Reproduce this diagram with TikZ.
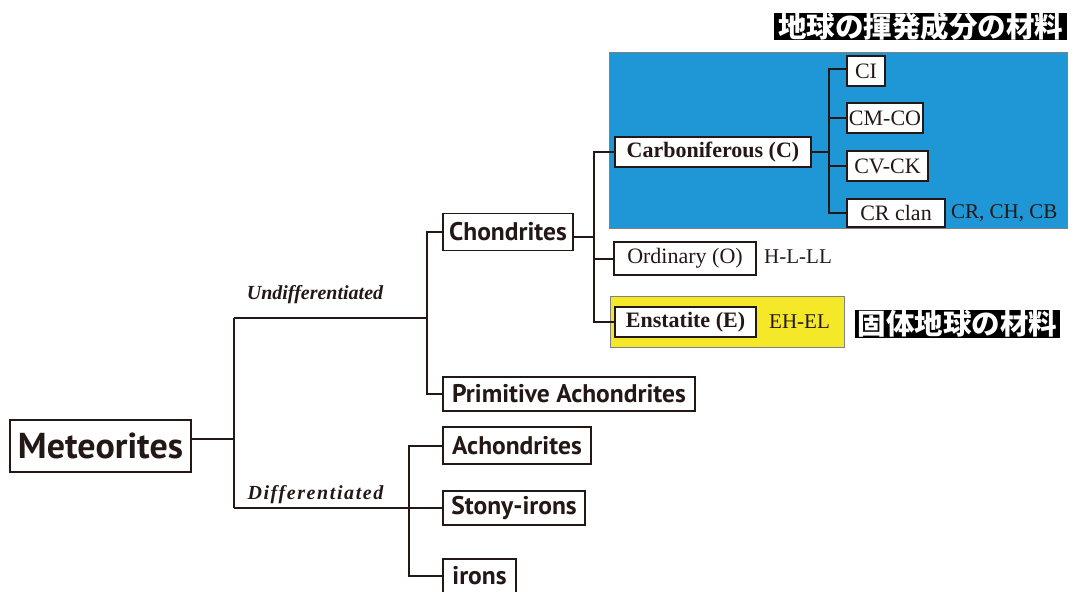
\documentclass[tikz,border=0pt]{standalone}
\usepackage{fontspec}
\setmainfont{Liberation Serif}
\newfontfamily\sansb{PT Sans}
\newfontfamily\cjk{Noto Sans CJK JP}
\definecolor{ink}{HTML}{231815}
\definecolor{cblue}{HTML}{1F96D5}
\definecolor{eyellow}{HTML}{F4E828}
\tikzset{
  box/.style={draw=ink, line width=1.8pt, fill=white, inner sep=0pt, text=ink},
  sansbox/.style={box, font=\sansb\bfseries\fontsize{25.5}{25.5}\selectfont},
  serifbox/.style={box, font=\fontsize{22}{22}\selectfont},
  boldserif/.style={box, font=\bfseries\fontsize{22}{22}\selectfont},
  conn/.style={draw=ink, line width=2pt},
  branchlab/.style={text=ink, inner sep=0pt, font=\bfseries\itshape\fontsize{20}{20}\selectfont},
  note/.style={text=ink, inner sep=0pt, anchor=west, font=\fontsize{21}{21}\selectfont},
  jplab/.style={fill=black, text=white, inner sep=0pt, font=\cjk\bfseries\fontsize{28.5}{28.5}\selectfont}
}
\begin{document}
\begin{tikzpicture}[x=1pt,y=-1pt]
\useasboundingbox (0,0) rectangle (1080,592);

% coloured group panels
\fill[cblue] (609,52) rectangle (1067,228);
\draw[gray, line width=0.6pt] (609,52) rectangle (1067,228);
\fill[eyellow] (610,296) rectangle (844,347);
\draw[gray, line width=0.6pt] (610,296) rectangle (844,347);

% classification boxes
\node[sansbox, minimum width=181, minimum height=52, font=\sansb\bfseries\fontsize{36}{36}\selectfont] (met) at (100.5,446) {Meteorites};
\node[sansbox, minimum width=130, minimum height=37] (chond) at (508,232) {Chondrites};
\node[sansbox, minimum width=252, minimum height=34] (prim) at (569,394) {Primitive Achondrites};
\node[sansbox, minimum width=148, minimum height=37] (achon) at (517,445.5) {Achondrites};
\node[sansbox, minimum width=142, minimum height=34] (stony) at (514,508) {Stony-irons};
\node[sansbox, minimum width=73, minimum height=34] (irons) at (479.5,576) {irons};

\node[boldserif, minimum width=196, minimum height=30] (carb) at (713,152) {Carboniferous (C)};
\node[serifbox, minimum width=38, minimum height=30] (ci) at (866,71) {CI};
\node[serifbox, minimum width=76, minimum height=30] (cmco) at (885,118) {CM-CO};
\node[serifbox, minimum width=81, minimum height=30] (cvck) at (887.5,166) {CV-CK};
\node[serifbox, minimum width=98, minimum height=28] (crclan) at (896,213) {CR clan};
\node[serifbox, minimum width=142, minimum height=33] (ord) at (685,258.5) {Ordinary (O)};
\node[boldserif, minimum width=141, minimum height=30] (enst) at (685.5,322) {Enstatite (E)};

% side notes
\node[note] (crch) at (951,213) {CR, CH, CB};
\node[note] (hll) at (764,257) {H-L-LL};
\node[note] (ehel) at (769,322) {EH-EL};
\node[branchlab] (undiff) at (315,295) {Undifferentiated};
\node[branchlab] (diff) at (315.5,495) {\addfontfeatures{LetterSpace=8}Differentiated};
\node[jplab, minimum width=293, minimum height=27] (volatile) at (920.5,26.5) {地球の揮発成分の材料};
\node[jplab, minimum width=205, minimum height=28] (solid) at (957.5,324) {固体地球の材料};

% junction points
\coordinate (ju) at (234,318);
\coordinate (jd) at (234,508);
\coordinate (jc) at (427,318);
\coordinate (jdd) at (409,508);
\coordinate (jch) at (594,237);
\coordinate (jcarb) at (829,152);

% tree connectors
\draw[conn] ([yshift=7pt]met.east) -- ([yshift=7pt]met.east -| ju);
\draw[conn] (ju) -- (jd);
\draw[conn] (ju) -- (jc);
\draw[conn] (jd) -- (stony.west);
\draw[conn] (chond.west) -| (jc) |- (prim.west);
\draw[conn] (achon.west) -| (jdd) |- (irons.west);
\draw[conn] ([yshift=-5pt]chond.east) -- (jch);
\draw[conn] (carb.west) -| (jch) |- (enst.west);
\draw[conn] (ord.west) -- (ord.west -| jch);
\draw[conn] (carb.east) -- (jcarb);
\draw[conn] ([yshift=2pt]ci.west) -| (jcarb) |- (crclan.west);
\draw[conn] (cmco.west) -- (cmco.west -| jcarb);
\draw[conn] (cvck.west) -- (cvck.west -| jcarb);
\end{tikzpicture}
\end{document}
